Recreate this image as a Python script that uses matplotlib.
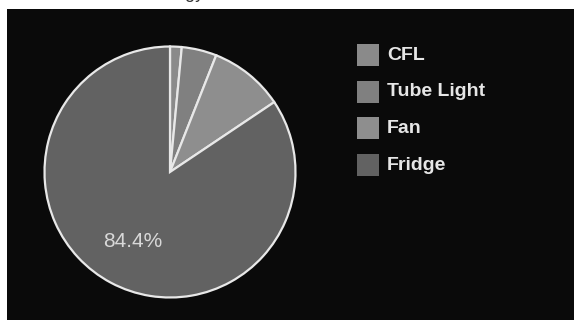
import matplotlib
matplotlib.use("Agg")
import matplotlib.pyplot as plt
from matplotlib.patches import Rectangle

plt.rcParams["font.family"] = ["Liberation Sans", "DejaVu Sans"]

# data
appliances = ["CFL", "Tube Light", "Fan", "Fridge"]
share = [1.5, 4.5, 9.6, 84.4]
colors = ["#8a8a8a", "#808080", "#8e8e8e", "#626262"]

W, H = 574, 320
fig = plt.figure(figsize=(W / 100, H / 100), dpi=100, facecolor="white")

# dark panel
bg = fig.add_axes([7 / W, 0, 1 - 7 / W, (H - 9) / H])
bg.set_facecolor("#0a0a0a")
bg.set_xticks([])
bg.set_yticks([])
for s in bg.spines.values():
    s.set_visible(False)

# title mostly cut off at the top edge (as in the source image)
fig.text(205 / W, 1 + 2 / H, "Energy", ha="right", va="baseline",
         fontsize=13, color="#333333")

# pie
cx, cy, r = 170, 172, 128
ax = fig.add_axes([(cx - r) / W, (H - cy - r) / H, 2 * r / W, 2 * r / H])
ax.set_facecolor("none")
ax.axis("off")


def pct_label(p):
    # only the big slice gets a label
    return "{:.1f}%".format(p) if p > 20 else ""


wedges, texts, autotexts = ax.pie(
    share, colors=colors, startangle=90, counterclock=False,
    autopct=pct_label, pctdistance=0.63, radius=1.0,
    wedgeprops=dict(edgecolor="#e8e8e8", linewidth=1.6),
    textprops=dict(color="#d8d8d8", fontsize=15))
ax.set_xlim(-1.02, 1.02)
ax.set_ylim(-1.02, 1.02)
ax.set_aspect("equal")

# legend
y0, step = 55, 36.7
for i, (name, c) in enumerate(zip(appliances, colors)):
    yc = y0 + i * step
    fig.patches.append(Rectangle((357 / W, (H - yc - 11) / H), 22 / W, 22 / H,
                                 transform=fig.transFigure, facecolor=c,
                                 edgecolor="none"))
    fig.text(387 / W, (H - yc) / H, name, ha="left", va="center",
             fontsize=14, fontweight="bold", color="#e6e6e6")

fig.savefig("out.png", dpi=100, facecolor="white")
